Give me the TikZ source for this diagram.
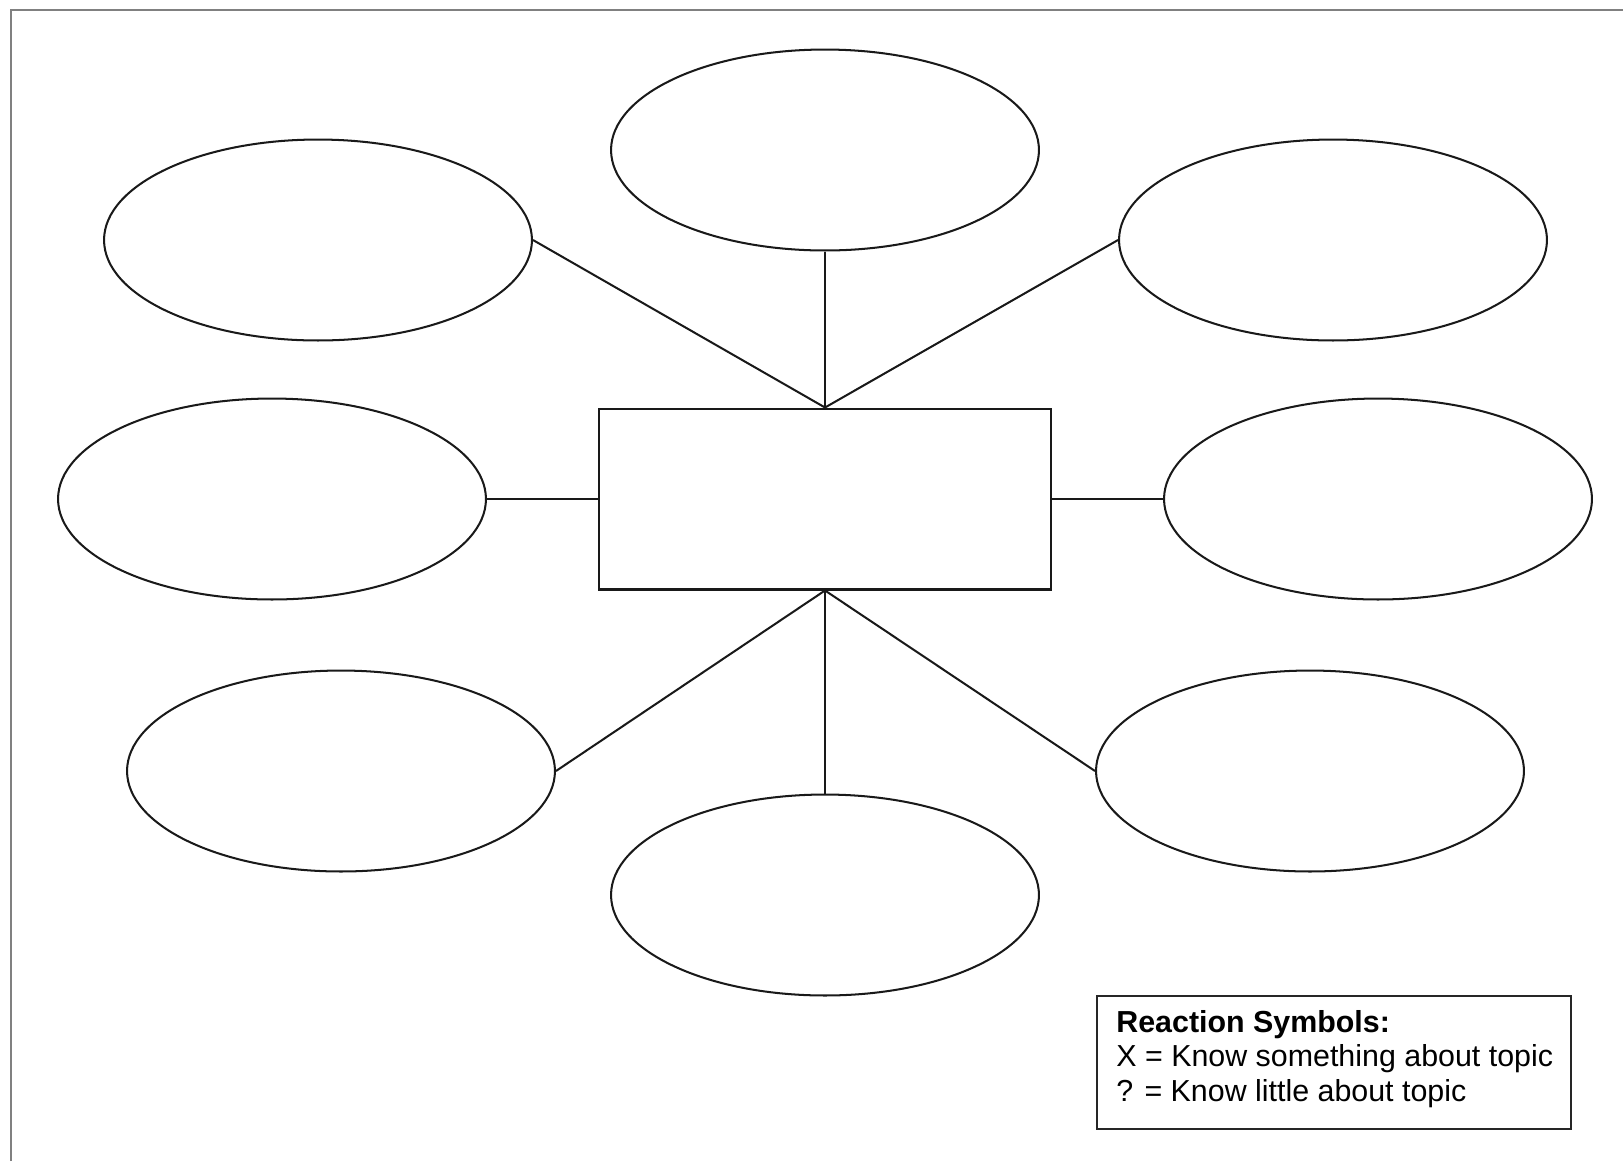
\documentclass[tikz,border=0pt]{standalone}
\usepackage{fontspec}
\setmainfont{Liberation Sans}
\usetikzlibrary{shapes.geometric}

\tikzset{
  bubble/.style={draw=black!90, line width=1.15pt, ellipse, inner sep=0pt,
    minimum width=8.56cm, minimum height=4.02cm},
  topicbox/.style={draw=black!90, line width=1.15pt, rectangle, inner sep=0pt,
    minimum width=9.06cm, minimum height=3.62cm},
  spoke/.style={draw=black!90, line width=1.15pt},
}

\begin{document}
\begin{tikzpicture}[x=0.02cm, y=-0.02cm]
    \useasboundingbox (0,0) rectangle (1623,1161);
    % Frame
    \draw[gray, line width=1.6pt] (11,1161) |- (1623,10);
    % Nodes
    \node[topicbox] (topic) at (825,499) {};
    \node[bubble] (t)  at (825,150) {};
    \node[bubble] (tl) at (318,240) {};
    \node[bubble] (tr) at (1333,240) {};
    \node[bubble] (ml) at (272,499) {};
    \node[bubble] (mr) at (1378,499) {};
    \node[bubble] (bl) at (341,771) {};
    \node[bubble] (b)  at (825,895) {};
    \node[bubble] (br) at (1310,771) {};
    % Drawing
    \draw[spoke] (tl.east) -- (topic.north);
    \draw[spoke] (t.south) -- (topic.north);
    \draw[spoke] (tr.west) -- (topic.north);
    \draw[spoke] (ml.east) -- (topic.west);
    \draw[spoke] (mr.west) -- (topic.east);
    \draw[spoke] (bl.east) -- (topic.south);
    \draw[spoke] (b.north) -- (topic.south);
    \draw[spoke] (br.west) -- (topic.south);
    % Labels
    \node[draw=black!85, line width=1.15pt, minimum width=9.48cm, minimum height=2.66cm]
      (legend) at (1334,1062.5) {};
    \node[anchor=north west, inner sep=0pt, align=left,
      font=\fontsize{17.3}{19.6}\selectfont] (key) at (1116,1010)
      {\textbf{Reaction Symbols:}\\
       X = Know something about topic\\
       ? = Know little about topic};
\end{tikzpicture}
\end{document}
